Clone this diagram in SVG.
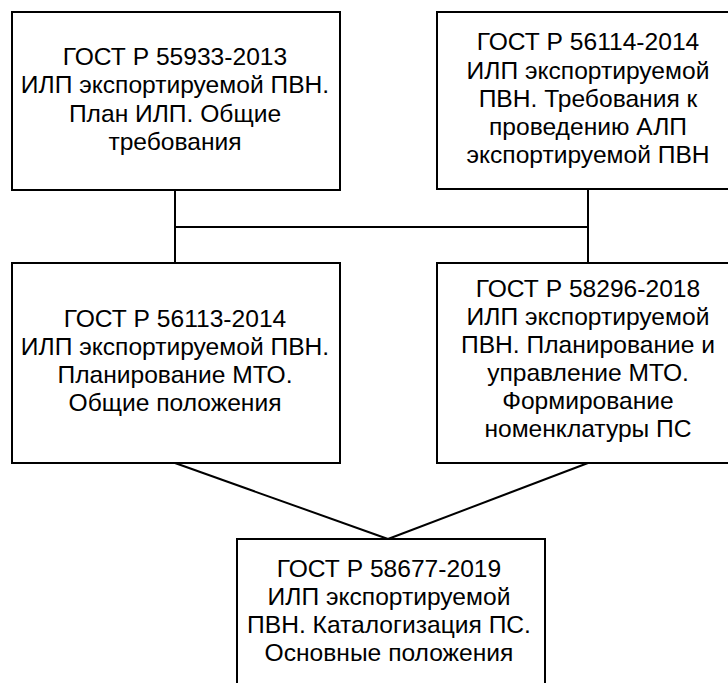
<svg xmlns="http://www.w3.org/2000/svg" width="728" height="683" viewBox="0 0 728 683">
<style>
rect{fill:#fff;stroke:#000;stroke-width:2}
line{stroke:#000;stroke-width:2}
text{font-family:"Liberation Sans",Arial,sans-serif;font-size:24.6px;fill:#000;text-anchor:middle}
</style>
<rect x="0" y="0" width="728" height="683" fill="#fff" stroke="none" style="stroke:none"/>
<g id="connectors">
<line x1="175" y1="190" x2="175" y2="263"/>
<line x1="588" y1="189" x2="588" y2="263"/>
<line x1="175" y1="227" x2="588" y2="227"/>
<line x1="175" y1="463" x2="388" y2="539"/>
<line x1="588" y1="463" x2="388" y2="539"/>
</g>
<g id="n1">
<rect x="12" y="12" width="328" height="178"/>
<text x="175" y="65">ГОСТ Р 55933-2013</text>
<text x="175" y="93">ИЛП экспортируемой ПВН.</text>
<text x="175" y="121.5">План ИЛП. Общие</text>
<text x="175" y="150">требования</text>
</g>
<g id="n2">
<rect x="437" y="12" width="302" height="177"/>
<text x="588" y="50">ГОСТ Р 56114-2014</text>
<text x="588" y="78.5">ИЛП экспортируемой</text>
<text x="588" y="107">ПВН. Требования к</text>
<text x="588" y="135">проведению АЛП</text>
<text x="588" y="163">экспортируемой ПВН</text>
</g>
<g id="n3">
<rect x="12" y="263" width="328" height="200"/>
<text x="175" y="327">ГОСТ Р 56113-2014</text>
<text x="175" y="355">ИЛП экспортируемой ПВН.</text>
<text x="175" y="383">Планирование МТО.</text>
<text x="175" y="411">Общие положения</text>
</g>
<g id="n4">
<rect x="437" y="263" width="302" height="200"/>
<text x="588" y="297">ГОСТ Р 58296-2018</text>
<text x="588" y="325">ИЛП экспортируемой</text>
<text x="588" y="353">ПВН. Планирование и</text>
<text x="588" y="381">управление МТО.</text>
<text x="588" y="409">Формирование</text>
<text x="588" y="437">номенклатуры ПС</text>
</g>
<g id="n5">
<rect x="237" y="539" width="308" height="160"/>
<text x="389" y="577">ГОСТ Р 58677-2019</text>
<text x="389" y="605">ИЛП экспортируемой</text>
<text x="389" y="633">ПВН. Каталогизация ПС.</text>
<text x="389" y="661">Основные положения</text>
</g>
</svg>
